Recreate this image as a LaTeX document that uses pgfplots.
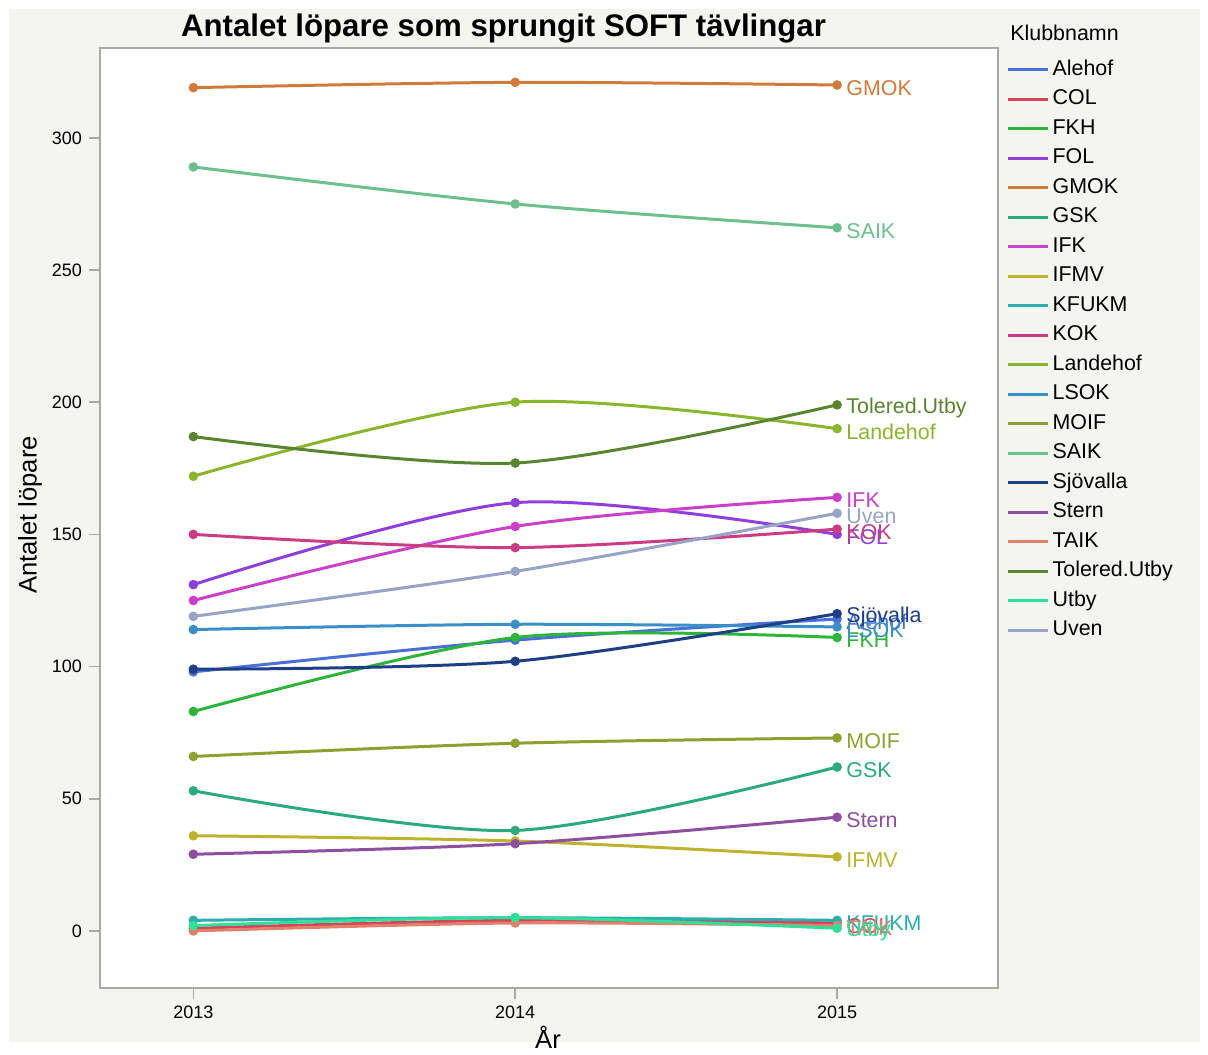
\documentclass[border=0pt]{standalone}
\usepackage{pgfplots}
\pgfplotsset{compat=1.18}
\usepackage{fontspec}
\setmainfont{Liberation Sans}

\definecolor{bgpanel}{HTML}{F5F5F0}
\definecolor{frame}{HTML}{A8A8A8}
\definecolor{cAlehof}{HTML}{4A6FD8}
\definecolor{cCOL}{HTML}{D6435A}
\definecolor{cFKH}{HTML}{2DB43A}
\definecolor{cFOL}{HTML}{8E3FDC}
\definecolor{cGMOK}{HTML}{D07A3C}
\definecolor{cGSK}{HTML}{2BAA7E}
\definecolor{cIFK}{HTML}{CC3FCC}
\definecolor{cIFMV}{HTML}{BDB32F}
\definecolor{cKFUKM}{HTML}{2AAFAE}
\definecolor{cKOK}{HTML}{CC3C84}
\definecolor{cLandehof}{HTML}{8AB62D}
\definecolor{cLSOK}{HTML}{3B8FC8}
\definecolor{cMOIF}{HTML}{8FA031}
\definecolor{cSAIK}{HTML}{6CC08D}
\definecolor{cSjovalla}{HTML}{1E3F86}
\definecolor{cStern}{HTML}{8E4FA0}
\definecolor{cTAIK}{HTML}{E0826A}
\definecolor{cTolered}{HTML}{5A8530}
\definecolor{cUtby}{HTML}{2EE09A}
\definecolor{cUven}{HTML}{98A3C8}

\tikzset{
  endlabel/.style={anchor=west, inner sep=0pt, xshift=4.5pt, yshift=-1.5pt,
    font=\fontsize{10.7}{12}\selectfont},
}

\begin{document}
\begin{tikzpicture}
  % page background: 1208x1048 px at 0.5pt per px
  \fill[white] (-50pt,-30pt) rectangle (554pt,494pt);
  \fill[bgpanel] (-45.5pt,-27pt) rectangle (550pt,489.5pt);

  \pgfplotsset{
    every axis plot/.append style={line width=1.5pt, smooth, mark=*,
      mark size=1.6pt, mark options={solid}},
  }

  \begin{axis}[
    at={(0pt,0pt)}, anchor=south west,
    scale only axis,
    width=449pt, height=470pt,
    xmin=2012.71, xmax=2015.5,
    ymin=-21.6, ymax=334,
    axis background/.style={fill=white},
    axis line style={frame, line width=0.8pt},
    xtick={2013,2014,2015},
    xticklabels={2013,2014,2015},
    ytick={0,50,100,150,200,250,300},
    xtick pos=bottom, ytick pos=left,
    tick align=outside,
    major tick length=5.5pt,
    tick style={frame, line width=0.8pt},
    /pgf/number format/assume math mode=true,
    ticklabel style={font=\fontsize{9}{10}\selectfont},
    clip=false,
    legend cell align=left,
    legend style={at={(1.0025,0.995)}, anchor=north west, draw=none, fill=none,
      font=\fontsize{10.7}{12}\selectfont,
      nodes={inner sep=1.5pt, text height=7.5pt, text depth=2pt},
      row sep=2.25pt},
    legend image code/.code={\draw[#1, mark=none] (0pt,0pt) -- (20pt,0pt);},
  ]

    \addplot[color=cAlehof] coordinates {(2013,98) (2014,110) (2015,118)};
    \addlegendentry{Alehof}
    \addplot[color=cCOL] coordinates {(2013,1) (2014,4) (2015,3)};
    \addlegendentry{COL}
    \addplot[color=cFKH] coordinates {(2013,83) (2014,111) (2015,111)};
    \addlegendentry{FKH}
    \addplot[color=cFOL] coordinates {(2013,131) (2014,162) (2015,150)};
    \addlegendentry{FOL}
    \addplot[color=cGMOK] coordinates {(2013,319) (2014,321) (2015,320)};
    \addlegendentry{GMOK}
    \addplot[color=cGSK] coordinates {(2013,53) (2014,38) (2015,62)};
    \addlegendentry{GSK}
    \addplot[color=cIFK] coordinates {(2013,125) (2014,153) (2015,164)};
    \addlegendentry{IFK}
    \addplot[color=cIFMV] coordinates {(2013,36) (2014,34) (2015,28)};
    \addlegendentry{IFMV}
    \addplot[color=cKFUKM] coordinates {(2013,4) (2014,5) (2015,4)};
    \addlegendentry{KFUKM}
    \addplot[color=cKOK] coordinates {(2013,150) (2014,145) (2015,152)};
    \addlegendentry{KOK}
    \addplot[color=cLandehof] coordinates {(2013,172) (2014,200) (2015,190)};
    \addlegendentry{Landehof}
    \addplot[color=cLSOK] coordinates {(2013,114) (2014,116) (2015,115)};
    \addlegendentry{LSOK}
    \addplot[color=cMOIF] coordinates {(2013,66) (2014,71) (2015,73)};
    \addlegendentry{MOIF}
    \addplot[color=cSAIK] coordinates {(2013,289) (2014,275) (2015,266)};
    \addlegendentry{SAIK}
    \addplot[color=cSjovalla] coordinates {(2013,99) (2014,102) (2015,120)};
    \addlegendentry{Sjövalla}
    \addplot[color=cStern] coordinates {(2013,29) (2014,33) (2015,43)};
    \addlegendentry{Stern}
    \addplot[color=cTAIK] coordinates {(2013,0) (2014,3) (2015,2)};
    \addlegendentry{TAIK}
    \addplot[color=cTolered] coordinates {(2013,187) (2014,177) (2015,199)};
    \addlegendentry{Tolered.Utby}
    \addplot[color=cUtby] coordinates {(2013,2) (2014,5) (2015,1)};
    \addlegendentry{Utby}
    \addplot[color=cUven] coordinates {(2013,119) (2014,136) (2015,158)};
    \addlegendentry{Uven}

    % labels at the line ends
    \node[endlabel, text=cAlehof]   at (axis cs:2015,118) {Alehof};
    \node[endlabel, text=cCOL]      at (axis cs:2015,3)   {COL};
    \node[endlabel, text=cFKH]      at (axis cs:2015,111) {FKH};
    \node[endlabel, text=cFOL]      at (axis cs:2015,150) {FOL};
    \node[endlabel, text=cGMOK]     at (axis cs:2015,320) {GMOK};
    \node[endlabel, text=cGSK]      at (axis cs:2015,62)  {GSK};
    \node[endlabel, text=cIFK]      at (axis cs:2015,164) {IFK};
    \node[endlabel, text=cIFMV]     at (axis cs:2015,28)  {IFMV};
    \node[endlabel, text=cKFUKM]    at (axis cs:2015,4)   {KFUKM};
    \node[endlabel, text=cKOK]      at (axis cs:2015,152) {KOK};
    \node[endlabel, text=cLandehof] at (axis cs:2015,190) {Landehof};
    \node[endlabel, text=cLSOK]     at (axis cs:2015,115) {LSOK};
    \node[endlabel, text=cMOIF]     at (axis cs:2015,73)  {MOIF};
    \node[endlabel, text=cSAIK]     at (axis cs:2015,266) {SAIK};
    \node[endlabel, text=cSjovalla] at (axis cs:2015,120) {Sjövalla};
    \node[endlabel, text=cStern]    at (axis cs:2015,43)  {Stern};
    \node[endlabel, text=cTAIK]     at (axis cs:2015,2)   {TAIK};
    \node[endlabel, text=cTolered]  at (axis cs:2015,199) {Tolered.Utby};
    \node[endlabel, text=cUtby]     at (axis cs:2015,1)   {Utby};
    \node[endlabel, text=cUven]     at (axis cs:2015,158) {Uven};
  \end{axis}

  \node[font=\fontsize{15.6}{18}\selectfont\bfseries] at (201.75pt,479.5pt)
    {Antalet löpare som sprungit SOFT tävlingar};
  \node[rotate=90, font=\fontsize{12.8}{14}\selectfont] at (-35pt,236.5pt)
    {Antalet löpare};
  \node[font=\fontsize{12.8}{14}\selectfont] at (224pt,-24.5pt) {År};
  \node[anchor=west, inner sep=0pt, font=\fontsize{10.7}{12}\selectfont]
    at (455pt,477.5pt) {Klubbnamn};
\end{tikzpicture}
\end{document}
